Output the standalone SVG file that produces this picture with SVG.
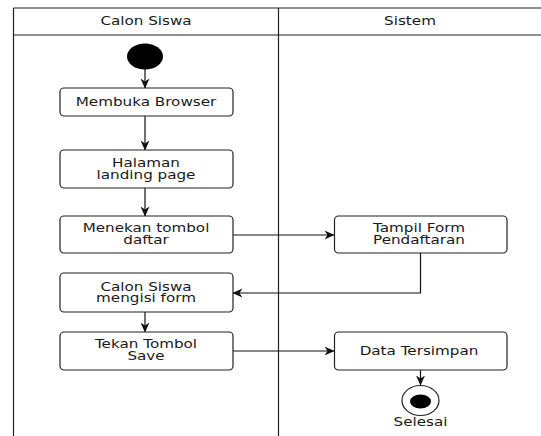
<svg xmlns="http://www.w3.org/2000/svg" width="541" height="436" viewBox="0 0 541 436">
  <style>
    .lane { fill: none; stroke: #222; stroke-width: 1.2; }
    .act { fill: #fff; stroke: #222; stroke-width: 1.2; }
    .lbl { font-family: "DejaVu Sans", sans-serif; font-size: 11.5px; fill: #1a1a1a; text-anchor: middle; }
    .edge { fill: none; stroke: #111; stroke-width: 1.2; }
  </style>
  <defs>
    <marker id="arrow" viewBox="0 0 10 10" refX="9.5" refY="5" markerWidth="10" markerHeight="10" markerUnits="userSpaceOnUse" orient="auto">
      <path d="M0,0.5 L10,5 L0,9.5 L3,5 Z" fill="#111"/>
    </marker>
  </defs>
  <rect width="541" height="436" fill="#fff"/>

  <!-- swimlanes -->
  <g id="swimlanes">
    <line class="lane" x1="13.5" y1="8" x2="541" y2="8"/>
    <line class="lane" x1="13.5" y1="35" x2="541" y2="35"/>
    <line class="lane" x1="13.5" y1="8" x2="13.5" y2="436"/>
    <line class="lane" x1="278.5" y1="8" x2="278.5" y2="436"/>
    <g transform="translate(146,25) scale(1.32,1)"><text class="lbl" x="0" y="0">Calon Siswa</text></g>
    <g transform="translate(410,25) scale(1.32,1)"><text class="lbl" x="0" y="0">Sistem</text></g>
  </g>

  <!-- connectors -->
  <g id="connectors">
    <line class="edge" x1="145" y1="69" x2="145" y2="88" marker-end="url(#arrow)"/>
    <line class="edge" x1="145" y1="116" x2="145" y2="150" marker-end="url(#arrow)"/>
    <line class="edge" x1="145" y1="188" x2="145" y2="216" marker-end="url(#arrow)"/>
    <line class="edge" x1="233" y1="235" x2="334" y2="235" marker-end="url(#arrow)"/>
    <polyline class="edge" points="420.5,253 420.5,293 233,293" marker-end="url(#arrow)"/>
    <line class="edge" x1="145" y1="312" x2="145" y2="332" marker-end="url(#arrow)"/>
    <line class="edge" x1="233" y1="351" x2="334" y2="351" marker-end="url(#arrow)"/>
    <line class="edge" x1="420.5" y1="370" x2="420.5" y2="385" marker-end="url(#arrow)"/>
  </g>

  <!-- start -->
  <g id="start">
    <ellipse cx="145" cy="56.5" rx="18" ry="13" fill="#000"/>
  </g>

  <g id="membuka-browser">
    <rect class="act" x="60" y="88" width="173" height="28" rx="4"/>
    <g transform="translate(146,106) scale(1.32,1)"><text class="lbl" x="0" y="0">Membuka Browser</text></g>
  </g>

  <g id="halaman-landing">
    <rect class="act" x="60" y="150" width="173" height="38" rx="4"/>
    <g transform="translate(146,166.5) scale(1.32,1)"><text class="lbl" x="0" y="0">Halaman</text></g>
    <g transform="translate(146,178.5) scale(1.32,1)"><text class="lbl" x="0" y="0">landing page</text></g>
  </g>

  <g id="menekan-daftar">
    <rect class="act" x="60" y="216" width="173" height="37" rx="4"/>
    <g transform="translate(146,232) scale(1.32,1)"><text class="lbl" x="0" y="0">Menekan tombol</text></g>
    <g transform="translate(146,244) scale(1.32,1)"><text class="lbl" x="0" y="0">daftar</text></g>
  </g>

  <g id="tampil-form">
    <rect class="act" x="334.5" y="216" width="172.5" height="37" rx="4"/>
    <g transform="translate(419,232) scale(1.32,1)"><text class="lbl" x="0" y="0">Tampil Form</text></g>
    <g transform="translate(419,244) scale(1.32,1)"><text class="lbl" x="0" y="0">Pendaftaran</text></g>
  </g>

  <g id="mengisi-form">
    <rect class="act" x="60" y="273" width="173" height="39" rx="4"/>
    <g transform="translate(146,290.5) scale(1.32,1)"><text class="lbl" x="0" y="0">Calon Siswa</text></g>
    <g transform="translate(146,302) scale(1.32,1)"><text class="lbl" x="0" y="0">mengisi form</text></g>
  </g>

  <g id="tekan-save">
    <rect class="act" x="60" y="332" width="173" height="38" rx="4"/>
    <g transform="translate(146,347.5) scale(1.32,1)"><text class="lbl" x="0" y="0">Tekan Tombol</text></g>
    <g transform="translate(146,360) scale(1.32,1)"><text class="lbl" x="0" y="0">Save</text></g>
  </g>

  <g id="data-tersimpan">
    <rect class="act" x="334.5" y="332" width="172.5" height="38" rx="4"/>
    <g transform="translate(419,355) scale(1.32,1)"><text class="lbl" x="0" y="0">Data Tersimpan</text></g>
  </g>

  <!-- end -->
  <g id="selesai">
    <ellipse cx="420.5" cy="400.5" rx="18.5" ry="15" fill="#fff" stroke="#222" stroke-width="1.2"/>
    <ellipse cx="420.5" cy="401.5" rx="10.5" ry="7" fill="#000"/>
    <g transform="translate(420.5,426) scale(1.32,1)"><text class="lbl" x="0" y="0">Selesai</text></g>
  </g>
</svg>
